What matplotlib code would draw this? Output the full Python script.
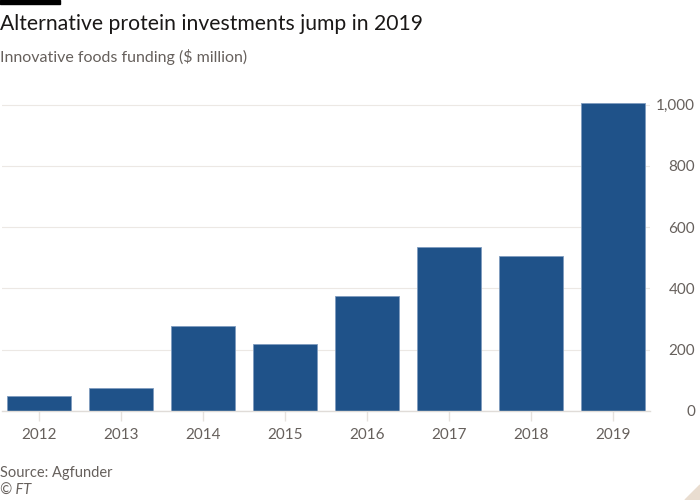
import matplotlib
matplotlib.use("Agg")
import matplotlib.pyplot as plt
from matplotlib.patches import Rectangle, Polygon

years = ["2012", "2013", "2014", "2015", "2016", "2017", "2018", "2019"]
funding = [50, 74, 277, 220, 374, 534, 506, 1004]
y_ticks = [0, 200, 400, 600, 800, 1000]
y_tick_labels = ["0", "200", "400", "600", "800", "1,000"]

plt.rcParams['font.family'] = ['Lato', 'DejaVu Sans']

fig = plt.figure(figsize=(7, 5), dpi=100, facecolor='white')
ax = fig.add_axes([2/700, 1 - 411/500, 648/700, (411 - 101.6)/500])
ax.set_facecolor('white')

x = list(range(len(years)))
ax.bar(x, funding, width=0.79, color='#1f5289', edgecolor='#7f9cbf', linewidth=0.6, zorder=3)

ax.set_xlim(-0.45, 7.45)
ax.set_ylim(0, 1010)
ax.set_yticks(y_ticks)
ax.set_yticklabels(y_tick_labels)
ax.yaxis.tick_right()
ax.tick_params(axis='y', length=0, pad=32.4, labelsize=11, labelcolor='#66605c')
ax.set_xticks(x)
ax.set_xticklabels(years)
ax.tick_params(axis='x', length=7, width=1, color='#e6e2de', pad=5, labelsize=11, labelcolor='#66605c')
for lbl in ax.get_yticklabels():
    lbl.set_horizontalalignment('right')

ax.grid(axis='y', color='#ece8e4', linewidth=0.8, zorder=0)
for s in ['top', 'right', 'left']:
    ax.spines[s].set_visible(False)
ax.spines['bottom'].set_color('#e0dcd8')
ax.spines['bottom'].set_linewidth(1)
ax.spines['bottom'].set_zorder(4)

fig.patches.append(Rectangle((0, 1 - 4/500), 60/700, 4/500, transform=fig.transFigure, color='black'))
fig.text(0, 1 - 24/500, "Alternative protein investments jump in 2019", fontsize=15.2, color='#1a1817', va='center', ha='left')
fig.text(0, 1 - 57/500, "Innovative foods funding ($ million)", fontsize=11.5, color='#66605c', va='center', ha='left')
fig.text(0, 1 - 473/500, "Source: Agfunder", fontsize=10.5, color='#66605c', va='center', ha='left')
fig.text(0, 1 - 491/500, "© FT", fontsize=10.5, color='#66605c', va='center', ha='left', style='italic')

fig.patches.append(Polygon([(1, 0), (1, 15/500), (1 - 15/700, 0)], closed=True, transform=fig.transFigure, color='#e9ddd0'))

fig.savefig("out.png", dpi=100, facecolor='white')
